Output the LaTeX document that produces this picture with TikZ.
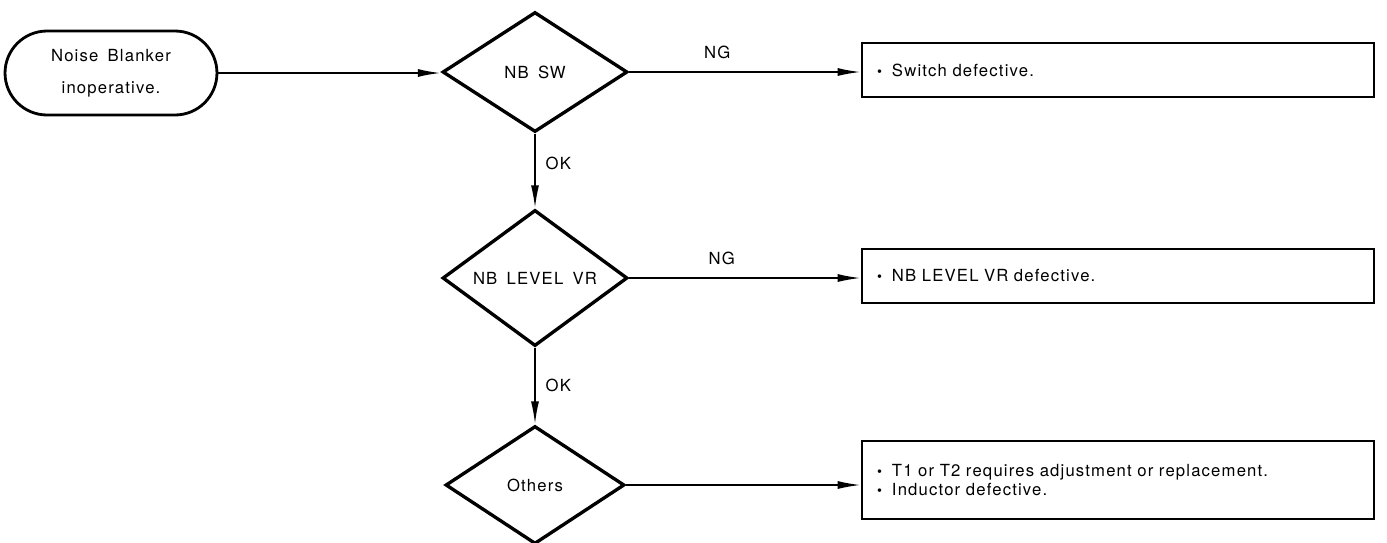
\documentclass[tikz,border=0pt]{standalone}
\usepackage{fontspec}
\setmainfont{TeX Gyre Heros}[LetterSpace=7, WordSpace=1.6]
\usetikzlibrary{positioning,shapes,arrows.meta}
\tikzset{
	every node/.style={font=\fontsize{9.5}{11}\selectfont},
	flow/.style={line width=1pt, -{Latex[length=0.46cm, width=0.16cm]}}
}
\newcommand{\dotitem}{{\fontsize{8}{8}\selectfont\textbullet}\hspace{0.6em}}

\begin{document}
\begin{tikzpicture}[
	x=0.02cm, y=-0.02cm,
	termnode/.style={rectangle, rounded corners=0.84cm, draw, line width=1.6pt, minimum width=4.24cm, minimum height=1.68cm, align=center},
	checknode/.style={diamond, draw, line width=1.9pt, minimum width=3.7cm, minimum height=2.4cm, inner sep=0pt},
	fixnode/.style={rectangle, draw, line width=1.5pt, minimum width=10.24cm, minimum height=1.08cm, inner xsep=0.3cm, text width=9.64cm, align=left},
	]
	\useasboundingbox (0,0) rectangle (1387,542);

	%Nodes
	\node[termnode]   (start)  at (111,73)  {Noise Blanker\\[7pt]inoperative.};
	\node[checknode]  (sw)     at (535,72)  {NB SW};
	\node[checknode]  (level)  at (535,278) {NB LEVEL VR};
	\node[checknode, minimum width=3.58cm, minimum height=2.36cm] (others) at (535,485) {Others};
	\node[fixnode]    (fix1)   at (1118,70) {\dotitem Switch defective.};
	\node[fixnode]    (fix2)   at (1118,276) {\dotitem NB LEVEL VR defective.};
	\node[fixnode, minimum height=1.56cm] (fix3) at (1118,480) {\dotitem T1 or T2 requires adjustment or replacement.\\\dotitem Inductor defective.};

	%Lines
	\draw[flow] (start.east) -- (start.east -| sw.west);
	\draw[flow] (sw.east) -- node[pos=0.38, above=0.12cm] {NG} (sw.east -| fix1.west);
	\draw[flow] (sw.south) -- node[pos=0.4, right=0.08cm] {OK} (level.north);
	\draw[flow] (level.east) -- node[pos=0.4, above=0.12cm] {NG} (level.east -| fix2.west);
	\draw[flow] (level.south) -- node[pos=0.49, right=0.08cm] {OK} (others.north);
	\draw[flow] (others.east) -- (others.east -| fix3.west);
\end{tikzpicture}
\end{document}
